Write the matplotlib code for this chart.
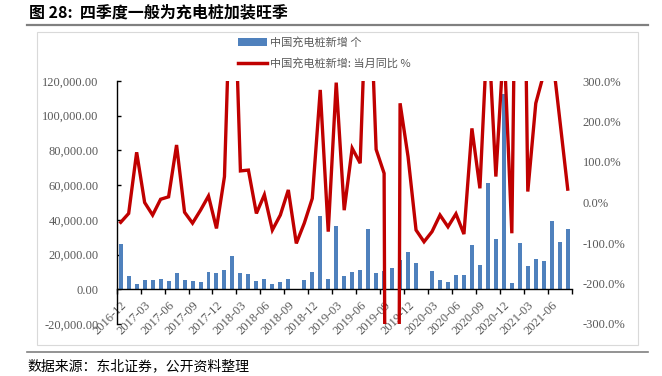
import matplotlib
matplotlib.use("Agg")
import matplotlib.pyplot as plt
from matplotlib.lines import Line2D
from matplotlib.patches import Patch, Rectangle
import numpy as np
import pandas as pd

# monthly categories 2016-12 .. 2021-08
months = [d.strftime("%Y-%m") for d in pd.date_range("2016-12-01", "2021-08-01", freq="MS")]

# 中国充电桩新增 个 (left axis)
new_piles = [
    26000, 7500, 2900, 5200, 5200, 6200, 4800, 9400, 5200, 4800,
    4000, 10200, 9400, 11300, 19000, 9400, 8800, 4600, 5800, 3300,
    4000, 6200, -500, 5200, 10200, 42100, 6200, 36300, 7700, 9800,
    11000, 35000, 9400, 10600, 12100, 17100, 21200, 15200, 400, 10600,
    5200, 4000, 8100, 8100, 25800, 14200, 61000, 28900, 112300, 3700,
    26500, 13500, 17700, 16300, 39200, 27300, 34600,
]

# 当月同比 % (right axis)
yoy_pct = [
    -49, -27, 124, 0, -31, 8, 14, 142, -24, -51,
    -19, 16, -64, 64, 700, 78, 80, -27, 19, -68,
    -31, 31, -101, -51, 10, 278, -72, 296, -19, 134,
    97, 650, 131, 72, -5000, 245, 113, -68, -97, -72,
    -31, -60, -28, -78, 183, 35, 450, 64, 400, -76,
    1500, 27, 245, 318, 378, 206, 33,
]

left_ticks = [-20000, 0, 20000, 40000, 60000, 80000, 100000, 120000]
right_ticks = [-300, -200, -100, 0, 100, 200, 300]

CJK = ["Noto Sans CJK SC", "DejaVu Sans"]
NUM = "Liberation Serif"
BLUE = "#4F81BD"
RED = "#C00000"
GREY_TXT = "#595959"

W, H = 662, 376
fig = plt.figure(figsize=(W / 100, H / 100), dpi=100)


def fx(px):
    return px / W


def fy(py):
    return 1 - py / H


# axes box in pixels
ax = fig.add_axes([fx(116.7), fy(324), fx(571.7) - fx(116.7), fy(81) - fy(324)])
x = np.arange(len(months))
ax.bar(x, new_piles, width=0.5, color=BLUE, zorder=2)
ax.set_xlim(-0.5, len(months) - 0.5)
ax.set_ylim(-20000, 120000)
ax.set_yticks(left_ticks)
ax.set_yticklabels([f"{v:,.2f}" for v in left_ticks], fontfamily=NUM, fontsize=9, color=GREY_TXT)
ax.tick_params(axis="y", direction="in", length=3, width=1, pad=13)

ax.spines["top"].set_visible(False)
ax.spines["right"].set_visible(False)
ax.spines["bottom"].set_position(("data", 0))
ax.spines["left"].set_linewidth(1)
ax.spines["bottom"].set_linewidth(1)

ax.set_xticks(x[::3])
ax.set_xticklabels(months[::3], rotation=45, ha="right", va="top",
                   rotation_mode="anchor", fontfamily=NUM, fontsize=9, color=GREY_TXT)
ax.set_xticks(np.arange(-0.5, len(months), 3), minor=True)
ax.tick_params(axis="x", which="major", length=0, pad=7)
ax.tick_params(axis="x", which="minor", direction="out", length=3.5, width=1)

ax2 = ax.twinx()
ax2.plot(x, yoy_pct, color=RED, lw=2.4, solid_joinstyle="miter", zorder=3)
ax2.set_ylim(-300, 300)
ax2.set_yticks(right_ticks)
ax2.set_yticklabels([f"{v:.1f}%" for v in right_ticks], fontfamily=NUM, fontsize=9, color=GREY_TXT)
ax2.tick_params(axis="y", length=0, pad=8)
for s in ax2.spines.values():
    s.set_visible(False)

# legend
handles = [Patch(facecolor=BLUE, edgecolor="none"), Line2D([], [], color=RED, lw=2.5)]
labels = ["中国充电桩新增 个", "中国充电桩新增: 当月同比 %"]
fig.legend(handles, labels, loc="upper left", bbox_to_anchor=(fx(238), fy(37)),
           frameon=False, prop={"family": CJK, "size": 8}, labelcolor=GREY_TXT,
           handlelength=2.6, handleheight=0.6, handletextpad=0.3,
           labelspacing=0.85, borderpad=0, borderaxespad=0)

# title, rules, frame, source
fig.text(fx(29), fy(12.7), "图 28:  四季度一般为充电桩加装旺季", fontfamily=CJK,
         fontsize=11.5, fontweight="bold", va="center", ha="left", color="black")
fig.add_artist(Line2D([fx(27), fx(648)], [fy(24.5), fy(24.5)], color="#808080", lw=1.6))
fig.add_artist(Rectangle((fx(36.7), fy(345)), fx(638) - fx(36.7), fy(32.3) - fy(345),
                         fill=False, edgecolor="#d9d9d9", lw=0.8))
fig.add_artist(Line2D([fx(27), fx(648)], [fy(352), fy(352)], color="#808080", lw=1.2))
fig.text(fx(27), fy(366), "数据来源：东北证券，公开资料整理", fontfamily=CJK,
         fontsize=10, va="center", ha="left", color="black")

fig.savefig("out.png", dpi=100)
